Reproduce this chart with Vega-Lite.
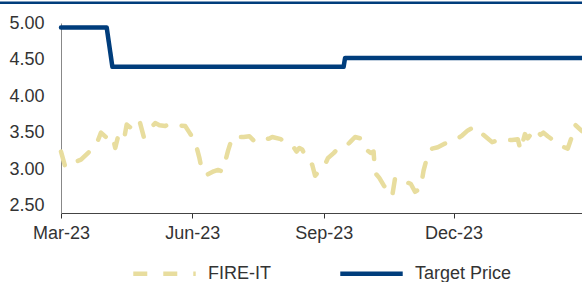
{
  "$schema": "https://vega.github.io/schema/vega-lite/v6.json",
  "width": 521,
  "height": 190,
  "autosize": {"type": "none"},
  "padding": {"left": 61, "top": 23, "right": 0, "bottom": 69},
  "config": {
    "view": {"stroke": null},
    "font": "Liberation Sans",
    "axis": {"labelOverlap": false, "labelFlush": false, "labelBound": false, "grid": false, "title": null}
  },
  "layer": [
    {
      "data": {
        "values": [
          {"date": "2023-03-01", "series": "FIRE-IT", "value": 3.24},
          {"date": "2023-03-04", "series": "FIRE-IT", "value": 3.03},
          {"date": "2023-03-07", "series": "FIRE-IT", "value": 3.05},
          {"date": "2023-03-11", "series": "FIRE-IT", "value": 3.10},
          {"date": "2023-03-15", "series": "FIRE-IT", "value": 3.13},
          {"date": "2023-03-23", "series": "FIRE-IT", "value": 3.28},
          {"date": "2023-03-26", "series": "FIRE-IT", "value": 3.35},
          {"date": "2023-03-29", "series": "FIRE-IT", "value": 3.50},
          {"date": "2023-04-02", "series": "FIRE-IT", "value": 3.43},
          {"date": "2023-04-06", "series": "FIRE-IT", "value": 3.46},
          {"date": "2023-04-08", "series": "FIRE-IT", "value": 3.29},
          {"date": "2023-04-10", "series": "FIRE-IT", "value": 3.45},
          {"date": "2023-04-13", "series": "FIRE-IT", "value": 3.40},
          {"date": "2023-04-14", "series": "FIRE-IT", "value": 3.39},
          {"date": "2023-04-16", "series": "FIRE-IT", "value": 3.61},
          {"date": "2023-04-20", "series": "FIRE-IT", "value": 3.55},
          {"date": "2023-04-25", "series": "FIRE-IT", "value": 3.66},
          {"date": "2023-04-28", "series": "FIRE-IT", "value": 3.44},
          {"date": "2023-05-02", "series": "FIRE-IT", "value": 3.55},
          {"date": "2023-05-06", "series": "FIRE-IT", "value": 3.63},
          {"date": "2023-05-09", "series": "FIRE-IT", "value": 3.60},
          {"date": "2023-05-13", "series": "FIRE-IT", "value": 3.59},
          {"date": "2023-05-16", "series": "FIRE-IT", "value": 3.62},
          {"date": "2023-05-22", "series": "FIRE-IT", "value": 3.60},
          {"date": "2023-05-27", "series": "FIRE-IT", "value": 3.59},
          {"date": "2023-05-30", "series": "FIRE-IT", "value": 3.50},
          {"date": "2023-06-02", "series": "FIRE-IT", "value": 3.41},
          {"date": "2023-06-04", "series": "FIRE-IT", "value": 3.30},
          {"date": "2023-06-06", "series": "FIRE-IT", "value": 3.15},
          {"date": "2023-06-08", "series": "FIRE-IT", "value": 2.96},
          {"date": "2023-06-11", "series": "FIRE-IT", "value": 2.92},
          {"date": "2023-06-16", "series": "FIRE-IT", "value": 2.97},
          {"date": "2023-06-19", "series": "FIRE-IT", "value": 2.99},
          {"date": "2023-06-22", "series": "FIRE-IT", "value": 2.97},
          {"date": "2023-06-24", "series": "FIRE-IT", "value": 3.10},
          {"date": "2023-06-26", "series": "FIRE-IT", "value": 3.25},
          {"date": "2023-06-29", "series": "FIRE-IT", "value": 3.44},
          {"date": "2023-07-03", "series": "FIRE-IT", "value": 3.44},
          {"date": "2023-07-07", "series": "FIRE-IT", "value": 3.44},
          {"date": "2023-07-11", "series": "FIRE-IT", "value": 3.45},
          {"date": "2023-07-15", "series": "FIRE-IT", "value": 3.37},
          {"date": "2023-07-20", "series": "FIRE-IT", "value": 3.40},
          {"date": "2023-07-25", "series": "FIRE-IT", "value": 3.42},
          {"date": "2023-07-27", "series": "FIRE-IT", "value": 3.44},
          {"date": "2023-08-02", "series": "FIRE-IT", "value": 3.41},
          {"date": "2023-08-06", "series": "FIRE-IT", "value": 3.35},
          {"date": "2023-08-11", "series": "FIRE-IT", "value": 3.30},
          {"date": "2023-08-13", "series": "FIRE-IT", "value": 3.24},
          {"date": "2023-08-15", "series": "FIRE-IT", "value": 3.29},
          {"date": "2023-08-17", "series": "FIRE-IT", "value": 3.27},
          {"date": "2023-08-20", "series": "FIRE-IT", "value": 3.15},
          {"date": "2023-08-24", "series": "FIRE-IT", "value": 3.06},
          {"date": "2023-08-26", "series": "FIRE-IT", "value": 2.91},
          {"date": "2023-08-30", "series": "FIRE-IT", "value": 3.00},
          {"date": "2023-09-01", "series": "FIRE-IT", "value": 3.02},
          {"date": "2023-09-04", "series": "FIRE-IT", "value": 3.15},
          {"date": "2023-09-08", "series": "FIRE-IT", "value": 3.22},
          {"date": "2023-09-10", "series": "FIRE-IT", "value": 3.26},
          {"date": "2023-09-16", "series": "FIRE-IT", "value": 3.30},
          {"date": "2023-09-20", "series": "FIRE-IT", "value": 3.38},
          {"date": "2023-09-23", "series": "FIRE-IT", "value": 3.44},
          {"date": "2023-09-27", "series": "FIRE-IT", "value": 3.42},
          {"date": "2023-09-29", "series": "FIRE-IT", "value": 3.35},
          {"date": "2023-09-30", "series": "FIRE-IT", "value": 3.28},
          {"date": "2023-10-04", "series": "FIRE-IT", "value": 3.22},
          {"date": "2023-10-06", "series": "FIRE-IT", "value": 3.24},
          {"date": "2023-10-07", "series": "FIRE-IT", "value": 2.95},
          {"date": "2023-10-10", "series": "FIRE-IT", "value": 2.88},
          {"date": "2023-10-13", "series": "FIRE-IT", "value": 2.78},
          {"date": "2023-10-16", "series": "FIRE-IT", "value": 2.70},
          {"date": "2023-10-19", "series": "FIRE-IT", "value": 2.63},
          {"date": "2023-10-21", "series": "FIRE-IT", "value": 2.87},
          {"date": "2023-10-23", "series": "FIRE-IT", "value": 2.85},
          {"date": "2023-10-26", "series": "FIRE-IT", "value": 2.87},
          {"date": "2023-10-29", "series": "FIRE-IT", "value": 2.82},
          {"date": "2023-11-01", "series": "FIRE-IT", "value": 2.80},
          {"date": "2023-11-04", "series": "FIRE-IT", "value": 2.69},
          {"date": "2023-11-08", "series": "FIRE-IT", "value": 2.74},
          {"date": "2023-11-10", "series": "FIRE-IT", "value": 2.98},
          {"date": "2023-11-13", "series": "FIRE-IT", "value": 3.20},
          {"date": "2023-11-16", "series": "FIRE-IT", "value": 3.28},
          {"date": "2023-11-20", "series": "FIRE-IT", "value": 3.30},
          {"date": "2023-11-25", "series": "FIRE-IT", "value": 3.35},
          {"date": "2023-11-30", "series": "FIRE-IT", "value": 3.39},
          {"date": "2023-12-04", "series": "FIRE-IT", "value": 3.42},
          {"date": "2023-12-07", "series": "FIRE-IT", "value": 3.46},
          {"date": "2023-12-11", "series": "FIRE-IT", "value": 3.53},
          {"date": "2023-12-15", "series": "FIRE-IT", "value": 3.57},
          {"date": "2023-12-17", "series": "FIRE-IT", "value": 3.57},
          {"date": "2023-12-20", "series": "FIRE-IT", "value": 3.50},
          {"date": "2023-12-25", "series": "FIRE-IT", "value": 3.42},
          {"date": "2023-12-28", "series": "FIRE-IT", "value": 3.37},
          {"date": "2024-01-03", "series": "FIRE-IT", "value": 3.41},
          {"date": "2024-01-06", "series": "FIRE-IT", "value": 3.40},
          {"date": "2024-01-11", "series": "FIRE-IT", "value": 3.40},
          {"date": "2024-01-15", "series": "FIRE-IT", "value": 3.41},
          {"date": "2024-01-17", "series": "FIRE-IT", "value": 3.26},
          {"date": "2024-01-20", "series": "FIRE-IT", "value": 3.48},
          {"date": "2024-01-22", "series": "FIRE-IT", "value": 3.42},
          {"date": "2024-01-27", "series": "FIRE-IT", "value": 3.55},
          {"date": "2024-01-31", "series": "FIRE-IT", "value": 3.47},
          {"date": "2024-02-02", "series": "FIRE-IT", "value": 3.50},
          {"date": "2024-02-05", "series": "FIRE-IT", "value": 3.45},
          {"date": "2024-02-10", "series": "FIRE-IT", "value": 3.38},
          {"date": "2024-02-14", "series": "FIRE-IT", "value": 3.32},
          {"date": "2024-02-19", "series": "FIRE-IT", "value": 3.28},
          {"date": "2024-02-22", "series": "FIRE-IT", "value": 3.45},
          {"date": "2024-02-24", "series": "FIRE-IT", "value": 3.61},
          {"date": "2024-02-29", "series": "FIRE-IT", "value": 3.52},
          {"date": "2023-03-01", "series": "Target Price", "value": 4.94},
          {"date": "2023-04-02", "series": "Target Price", "value": 4.94},
          {"date": "2023-04-06", "series": "Target Price", "value": 4.40},
          {"date": "2023-09-15", "series": "Target Price", "value": 4.40},
          {"date": "2023-09-16", "series": "Target Price", "value": 4.52},
          {"date": "2024-02-29", "series": "Target Price", "value": 4.52}
        ],
        "format": {"parse": {"date": "date:'%Y-%m-%d'"}}
      },
      "mark": {"type": "line", "strokeWidth": 4.5, "strokeCap": "round", "strokeJoin": "round"},
      "encoding": {
        "x": {
          "field": "date",
          "type": "temporal",
          "scale": {"domain": [{"year": 2023, "month": 3, "date": 1}, {"year": 2024, "month": 2, "date": 29}]},
          "axis": {
            "values": [
              {"year": 2023, "month": 3, "date": 1},
              {"year": 2023, "month": 6, "date": 1},
              {"year": 2023, "month": 9, "date": 1},
              {"year": 2023, "month": 12, "date": 1}
            ],
            "tickCount": 20,
            "format": "%b-%y",
            "tickSize": 5,
            "tickColor": "#333333",
            "domainColor": "#444444",
            "labelPadding": 6,
            "labelFontSize": 18,
            "labelColor": "#333333",
            "labelAlign": "center"
          }
        },
        "y": {
          "field": "value",
          "type": "quantitative",
          "scale": {"domain": [2.5, 5]},
          "axis": {
            "values": [2.5, 3, 3.5, 4, 4.5, 5],
            "tickCount": 20,
            "format": ".2f",
            "ticks": false,
            "domainColor": "#888888",
            "labelPadding": 17,
            "labelFontSize": 18,
            "labelColor": "#333333"
          }
        },
        "color": {
          "field": "series",
          "type": "nominal",
          "scale": {"domain": ["FIRE-IT", "Target Price"], "range": ["#E8DD9E", "#003D7C"]},
          "legend": {
            "title": null,
            "orient": "none",
            "legendX": 70,
            "legendY": 217,
            "direction": "horizontal",
            "symbolType": "stroke",
            "symbolSize": 3900,
            "symbolStrokeWidth": 4.5,
            "labelFontSize": 18,
            "labelColor": "#333333",
            "labelOffset": 10,
            "columnPadding": 60
          }
        },
        "strokeDash": {
          "field": "series",
          "type": "nominal",
          "scale": {"domain": ["FIRE-IT", "Target Price"], "range": [[14, 16], [1, 0]]},
          "legend": {
            "title": null,
            "orient": "none",
            "legendX": 70,
            "legendY": 217,
            "direction": "horizontal",
            "symbolType": "stroke",
            "symbolSize": 3900,
            "symbolStrokeWidth": 4.5,
            "labelFontSize": 18,
            "labelColor": "#333333",
            "labelOffset": 10,
            "columnPadding": 60
          }
        }
      }
    },
    {
      "data": {"values": [{}]},
      "mark": {"type": "rule", "color": "#003D7C", "strokeWidth": 2.5},
      "encoding": {
        "y": {"datum": 5.276, "type": "quantitative"},
        "x": {"datum": {"year": 2023, "month": 1, "date": 17}, "type": "temporal"},
        "x2": {"datum": {"year": 2024, "month": 3, "date": 3}}
      }
    }
  ]
}
